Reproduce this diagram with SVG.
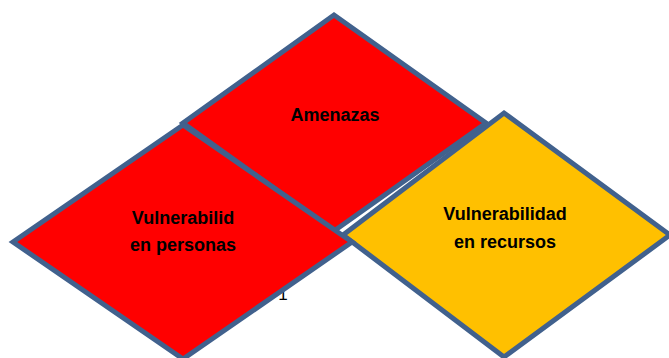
<svg xmlns="http://www.w3.org/2000/svg" width="669" height="358" viewBox="0 0 669 358">
<style>
.d{stroke:#41618D;stroke-width:5;stroke-linejoin:miter}
.red{fill:#FF0000}
.yel{fill:#FFC000}
.t{font-family:"Liberation Sans",Arial,sans-serif;font-weight:bold;font-size:18px;fill:#000;text-anchor:middle}
</style>
<rect width="669" height="358" fill="#fff"/>
<g id="amenazas">
<polygon class="d red" points="334,15 486,123 334,231 183,123"/>
<text class="t" x="335" y="121">Amenazas</text>
</g>
<g id="vuln-recursos">
<polygon class="d yel" points="504,113 670,235 504,357 343,235"/>
<text class="t" x="505" y="220">Vulnerabilidad</text>
<text class="t" x="505" y="248">en recursos</text>
</g>
<text x="283" y="300" style="font-family:'Liberation Sans',Arial,sans-serif;font-size:17px;fill:#000" text-anchor="middle">1</text>
<g id="vuln-personas">
<polygon class="d red" points="183,125 352,242 183,359 13,242"/>
<text class="t" x="183" y="224">Vulnerabilid</text>
<text class="t" x="183" y="251">en personas</text>
</g>
<g id="connectors"/>
</svg>
